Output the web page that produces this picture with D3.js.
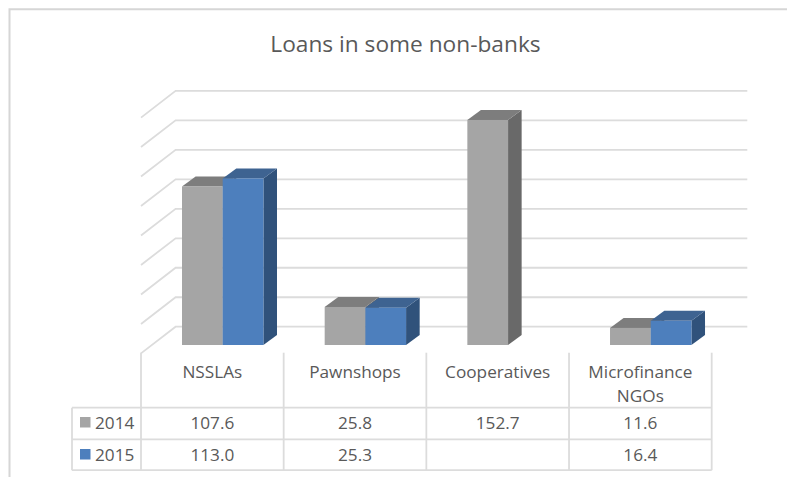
<!DOCTYPE html>
<html>
<head>
<meta charset="utf-8">
<style>
html,body{margin:0;padding:0;background:#fff;overflow:hidden}
text{font-family:"Open Sans","Noto Sans",sans-serif;fill:#595959}
</style>
<script src="https://cdnjs.cloudflare.com/ajax/libs/d3/7.8.5/d3.min.js"></script>
</head>
<body>
<svg id="chart" width="787" height="477"></svg>
<script>
const categories = ["NSSLAs", "Pawnshops", "Cooperatives", "Microfinance NGOs"];
const categoryLines = [["NSSLAs"], ["Pawnshops"], ["Cooperatives"], ["Microfinance", "NGOs"]];
const seriesNames = ["2014", "2015"];
const values2014 = [107.6, 25.8, 152.7, 11.6];
const values2015 = [113.0, 25.3, null, 16.4];
const valueLabels2014 = ["107.6", "25.8", "152.7", "11.6"];
const valueLabels2015 = ["113.0", "25.3", "", "16.4"];
const gridValues = d3.range(0, 161, 20);
const title = "Loans in some non-banks";

const front = "#a5a5a5", frontBlue = "#4d7fbd";
const topGray = "#7d7d7d", topBlue = "#3e6391";
const sideGray = "#696969", sideBlue = "#30527b";
const lineColor = "#dcdcdc";

const svg = d3.select("#chart");

const x = d3.scaleBand().domain(categories).range([141, 711.7]);
const y = d3.scaleLinear().domain([0, 160]).range([345, 109.2]);

// oblique projection offsets
const wallDx = 34.6, wallDy = 26.7, wallLift = 18.3;
const barDx = 13.6, barDy = 10;
const barInset = 41, barW = 40.7;

const frame = svg.append("g").attr("fill", "none").attr("stroke", "#d6d6d6");
frame.append("path").attr("stroke-width", 2)
  .attr("d", "M9.5,477V9.3H787");

// back wall and side wall gridlines
const grid = svg.append("g").attr("fill", "none").attr("stroke", lineColor).attr("stroke-width", 1.8);
grid.selectAll("path").data(gridValues).join("path")
  .attr("d", v => {
    const yb = y(v) - wallLift;
    return `M${x.range()[0]},${yb + wallDy}L${x.range()[0] + wallDx},${yb}H${x.range()[1] + wallDx + 1}`;
  });

// data table rules
const rowY = [407.7, 439.3, 470.2];
const table = svg.append("g").attr("fill", "none").attr("stroke", lineColor).attr("stroke-width", 1.8);
table.selectAll("path.v").data(d3.range(5)).join("path").attr("class", "v")
  .attr("d", i => `M${x.range()[0] + i * x.bandwidth()},352.7V${rowY[2]}`);
table.selectAll("path.h").data(rowY).join("path").attr("class", "h")
  .attr("d", r => `M72,${r}H${x.range()[1]}`);
table.append("path").attr("d", `M72,${rowY[0]}V${rowY[2]}`);

// one 3D column: side, top, then front face
function column(g, px, v, f, t, s) {
  const yt = y(v), yb = y(0), r = px + barW;
  g.append("path").attr("fill", s)
    .attr("d", `M${r},${yt}l${barDx},${-barDy}V${yb - barDy}L${r},${yb}Z`);
  g.append("path").attr("fill", t)
    .attr("d", `M${px},${yt}l${barDx},${-barDy}H${r + barDx}L${r},${yt}Z`);
  g.append("rect").attr("fill", f).attr("x", px).attr("y", yt)
    .attr("width", barW).attr("height", yb - yt);
}

const bars = svg.append("g");
categories.forEach((c, i) => {
  const x0 = x(c) + barInset;
  column(bars, x0, values2014[i], front, topGray, sideGray);
  if (values2015[i] !== null) column(bars, x0 + barW, values2015[i], frontBlue, topBlue, sideBlue);
});

svg.append("text").attr("x", 405.5).attr("y", 51.5).attr("text-anchor", "middle")
  .attr("font-size", 22.7).text(title);

const labelSize = 17.2;
categories.forEach((c, i) => {
  const cx = x(c) + x.bandwidth() / 2;
  const lines = categoryLines[i];
  lines.forEach((l, j) => {
    svg.append("text").attr("x", cx).attr("y", 378 + j * 24.3).attr("text-anchor", "middle")
      .attr("font-size", labelSize).text(l);
  });
  [valueLabels2014, valueLabels2015].forEach((vals, k) => {
    svg.append("text").attr("x", cx).attr("y", 429 + k * 31.7).attr("text-anchor", "middle")
      .attr("font-size", labelSize).text(vals[i]);
  });
});

seriesNames.forEach((n, k) => {
  const cy = 422.5 + k * 32;
  svg.append("rect").attr("x", 80).attr("y", cy - 5.5).attr("width", 10.5).attr("height", 10.5)
    .attr("fill", k ? frontBlue : front);
  svg.append("text").attr("x", 95).attr("y", 429 + k * 31.7).attr("font-size", labelSize).text(n);
});
</script>
</body>
</html>
